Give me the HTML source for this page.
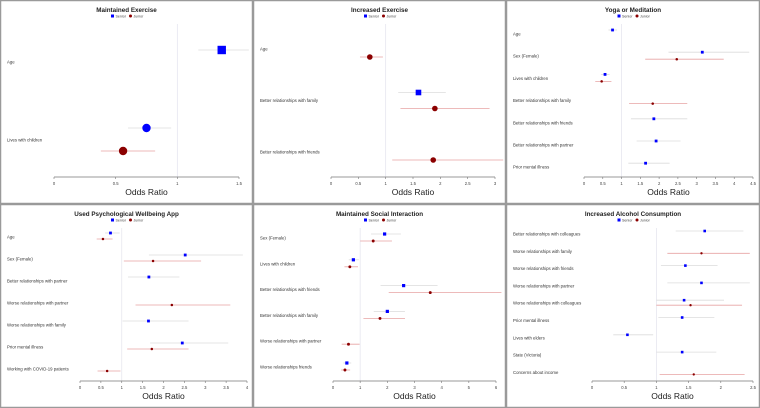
<!DOCTYPE html>
<html><head><meta charset="utf-8">
<style>
html,body{margin:0;padding:0;background:#fff;}
svg{display:block;font-family:"Liberation Sans",sans-serif;}
</style></head>
<body>
<svg id="fig" width="760" height="408" viewBox="0 0 760 408"></svg>
<script>
// Panel 1: Maintained Exercise
const p1Categories = ["Age","Lives with children"];
const p1SeniorOR = [1.36, 0.75], p1SeniorLo = [1.17, 0.60], p1SeniorHi = [1.58, 0.95];
const p1JuniorOR = [null, 0.56], p1JuniorLo = [null, 0.38], p1JuniorHi = [null, 0.82];
const p1Ticks = ["0","0.5","1","1.5"];
// Panel 2: Increased Exercise
const p2Categories = ["Age","Better relationships with family","Better relationships with friends"];
const p2SeniorOR = [null, 1.60, null], p2SeniorLo = [null, 1.23, null], p2SeniorHi = [null, 2.10, null];
const p2JuniorOR = [0.71, 1.90, 1.87], p2JuniorLo = [0.53, 1.27, 1.12], p2JuniorHi = [0.95, 2.90, 3.15];
const p2Ticks = ["0","0.5","1","1.5","2","2.5","3"];
// Panel 3: Yoga or Meditation
const p3Categories = ["Age","Sex (Female)","Lives with children","Better relationships with family","Better relationships with friends","Better relationships with partner","Prior mental illness"];
const p3SeniorOR = [0.76, 3.15, 0.56, null, 1.86, 1.92, 1.64], p3SeniorLo = [0.65, 2.25, 0.45, null, 1.25, 1.40, 1.18], p3SeniorHi = [0.88, 4.40, 0.68, null, 2.75, 2.57, 2.28];
const p3JuniorOR = [null, 2.47, 0.47, 1.83, null, null, null], p3JuniorLo = [null, 1.63, 0.30, 1.20, null, null, null], p3JuniorHi = [null, 3.72, 0.73, 2.75, null, null, null];
const p3Ticks = ["0","0.5","1","1.5","2","2.5","3","3.5","4","4.5"];
// Panel 4: Used Psychological Wellbeing App
const p4Categories = ["Age","Sex (Female)","Better relationships with partner","Worse relationships with partner","Worse relationships with family","Prior mental illness","Working with COVID-19 patients"];
const p4SeniorOR = [0.73, 2.52, 1.65, null, 1.64, 2.45, null], p4SeniorLo = [0.60, 1.65, 1.15, null, 1.02, 1.68, null], p4SeniorHi = [0.95, 3.90, 2.38, null, 2.60, 3.55, null];
const p4JuniorOR = [0.55, 1.75, null, 2.20, null, 1.72, 0.65], p4JuniorLo = [0.40, 1.05, null, 1.33, null, 1.13, 0.42], p4JuniorHi = [0.78, 2.90, null, 3.60, null, 2.60, 0.97];
const p4Ticks = ["0","0.5","1","1.5","2","2.5","3","3.5","4"];
// Panel 5: Maintained Social Interaction
const p5Categories = ["Sex (Female)","Lives with children","Better relationships with friends","Better relationships with family","Worse relationships with partner","Worse relationships friends"];
const p5SeniorOR = [1.90, 0.75, 2.60, 2.00, null, 0.51], p5SeniorLo = [1.40, 0.58, 1.75, 1.50, null, 0.38], p5SeniorHi = [2.50, 0.95, 3.85, 2.65, null, 0.67];
const p5JuniorOR = [1.48, 0.62, 3.58, 1.73, 0.57, 0.44], p5JuniorLo = [1.00, 0.42, 2.05, 1.12, 0.32, 0.30], p5JuniorHi = [2.17, 0.92, 6.20, 2.65, 0.98, 0.63];
const p5Ticks = ["0","1","2","3","4","5","6"];
// Panel 6: Increased Alcohol Consumption
const p6Categories = ["Better relationships with colleagues","Worse relationships with family","Worse relationships with friends","Worse relationships with partner","Worse relationships with colleagues","Prior mental illness","Lives with elders","State (Victoria)","Concerns about income"];
const p6SeniorOR = [1.75, null, 1.45, 1.70, 1.43, 1.40, 0.55, 1.40, null], p6SeniorLo = [1.30, null, 1.07, 1.17, 1.00, 1.03, 0.33, 1.00, null], p6SeniorHi = [2.35, null, 1.95, 2.45, 2.05, 1.90, 0.95, 1.93, null];
const p6JuniorOR = [null, 1.70, null, null, 1.53, null, null, null, 1.58], p6JuniorLo = [null, 1.17, null, null, 1.00, null, null, null, 1.05], p6JuniorHi = [null, 2.45, null, null, 2.33, null, null, null, 2.37];
const p6Ticks = ["0","0.5","1","1.5","2","2.5"];

const NS = "http://www.w3.org/2000/svg";
const fig = document.getElementById("fig");
function mk(tag, attrs, parent){ const e=document.createElementNS(NS,tag); for(const k in attrs) e.setAttribute(k,attrs[k]); (parent||fig).appendChild(e); return e; }

const panels = [
 {title:"Maintained Exercise", ox:0, oy:0, w:253, x0:54, x1:239, cats:p1Categories, sOR:p1SeniorOR, sLo:p1SeniorLo, sHi:p1SeniorHi, jOR:p1JuniorOR, jLo:p1JuniorLo, jHi:p1JuniorHi, ticks:p1Ticks, top:62, step:78, sOff:-12, jOff:11, ms:4.2, square:true},
 {title:"Increased Exercise", ox:253, oy:0, w:253, x0:78, x1:242, cats:p2Categories, sOR:p2SeniorOR, sLo:p2SeniorLo, sHi:p2SeniorHi, jOR:p2JuniorOR, jLo:p2JuniorLo, jHi:p2JuniorHi, ticks:p2Ticks, top:49, step:51.5, sOff:-8, jOff:8, ms:2.8, square:true},
 {title:"Yoga or Meditation", ox:506, oy:0, w:254, x0:78, x1:247, cats:p3Categories, sOR:p3SeniorOR, sLo:p3SeniorLo, sHi:p3SeniorHi, jOR:p3JuniorOR, jLo:p3JuniorLo, jHi:p3JuniorHi, ticks:p3Ticks, top:34, step:22.2, sOff:-4, jOff:3, ms:1.4, square:false},
 {title:"Used Psychological Wellbeing App", ox:0, oy:204, w:253, x0:80, x1:247, cats:p4Categories, sOR:p4SeniorOR, sLo:p4SeniorLo, sHi:p4SeniorHi, jOR:p4JuniorOR, jLo:p4JuniorLo, jHi:p4JuniorHi, ticks:p4Ticks, top:33, step:22, sOff:-4, jOff:2, ms:1.4, square:false},
 {title:"Maintained Social Interaction", ox:253, oy:204, w:253, x0:80, x1:243, cats:p5Categories, sOR:p5SeniorOR, sLo:p5SeniorLo, sHi:p5SeniorHi, jOR:p5JuniorOR, jLo:p5JuniorLo, jHi:p5JuniorHi, ticks:p5Ticks, top:34, step:25.8, sOff:-4, jOff:3, ms:1.6, square:false},
 {title:"Increased Alcohol Consumption", ox:506, oy:204, w:254, x0:86, x1:247, cats:p6Categories, sOR:p6SeniorOR, sLo:p6SeniorLo, sHi:p6SeniorHi, jOR:p6JuniorOR, jLo:p6JuniorLo, jHi:p6JuniorHi, ticks:p6Ticks, top:30, step:17.3, sOff:-3, jOff:2, ms:1.3, square:false}
];

panels.forEach((p, pi) => {
  const g = mk("g", {transform:`translate(${p.ox},${p.oy})`});
  
  
  mk("rect",{x:0.5,y:0.5,width:p.w-1,height:203,fill:"#fff",stroke:"#9a9a9a","stroke-width":1.5},g);
  const tmax = parseFloat(p.ticks[p.ticks.length-1]);
  const xs = v => p.x0 + (v/tmax)*(p.x1-p.x0);
  const axisY = 177;
  const t = mk("text",{x:p.w/2,y:12,"text-anchor":"middle","font-size":6.3,"font-weight":"bold",fill:"#222"},g);
  t.textContent = p.title;
  
  
  // legend
  const lg = mk("g",{},g);
  
  
  const lx = p.w/2 - 14;
  mk("rect",{x:lx-1.5,y:14.5,width:3,height:3,fill:"#0000ff"},lg);
  const l1 = mk("text",{x:lx+3,y:17.5,"font-size":3.6,fill:"#444"},lg); l1.textContent="Senior";
  
  
  mk("circle",{cx:lx+18,cy:16,r:1.5,fill:"#8b0000"},lg);
  const l2 = mk("text",{x:lx+21,y:17.5,"font-size":3.6,fill:"#444"},lg); l2.textContent="Junior";
  
  
  // reference line
  const rl = mk("line",{x1:xs(1),x2:xs(1),y1:24,y2:axisY,stroke:"#e6e6ef","stroke-width":0.8},g);
  
  
  // axis
  const ax = mk("line",{x1:p.x0,x2:p.x1,y1:axisY,y2:axisY,stroke:"#777","stroke-width":0.7},g);
  
  
  p.ticks.forEach(tk => {
    const x = xs(parseFloat(tk));
    mk("line",{x1:x,x2:x,y1:axisY,y2:axisY+2,stroke:"#777","stroke-width":0.6},g);
    const tl = mk("text",{x:x,y:axisY+8,"text-anchor":"middle","font-size":4.2,fill:"#444"},g);
    tl.textContent = tk;
    
    
  });
  const xt = mk("text",{x:(p.x0+p.x1)/2,y:195,"text-anchor":"middle","font-size":8.5,fill:"#222"},g);
  xt.textContent = "Odds Ratio";
  
  
  p.cats.forEach((c, i) => {
    const ly = p.top + i*p.step;
    const lt = mk("text",{x:7,y:ly+1.5,"font-size":4.3,fill:"#333"},g);
    lt.textContent = c;
    
    
    if (p.sOR[i] != null) {
      const y = ly + p.sOff;
      const ci = mk("line",{x1:xs(p.sLo[i]),x2:xs(p.sHi[i]),y1:y,y2:y,stroke:"#dcdcdc","stroke-width":0.8},g);
      
      
      let m;
      if (p.square) m = mk("rect",{x:xs(p.sOR[i])-p.ms,y:y-p.ms,width:2*p.ms,height:2*p.ms,fill:"#0000ff"},g);
      else m = mk("rect",{x:xs(p.sOR[i])-p.ms,y:y-p.ms,width:2*p.ms,height:2*p.ms,fill:"#0000ff"},g);
      if (pi===0 && i===1) { m.remove(); m = mk("circle",{cx:xs(p.sOR[i]),cy:y,r:p.ms,fill:"#0000ff"},g); }
      
      
    }
    if (p.jOR[i] != null) {
      const y = ly + p.jOff;
      const ci = mk("line",{x1:xs(p.jLo[i]),x2:xs(p.jHi[i]),y1:y,y2:y,stroke:"#e7a3a3","stroke-width":0.8},g);
      
      
      const m = mk("circle",{cx:xs(p.jOR[i]),cy:y,r:p.square?p.ms:p.ms*0.9,fill:"#8b0000"},g);
      
      
    }
  });
});
</script>
</body></html>
